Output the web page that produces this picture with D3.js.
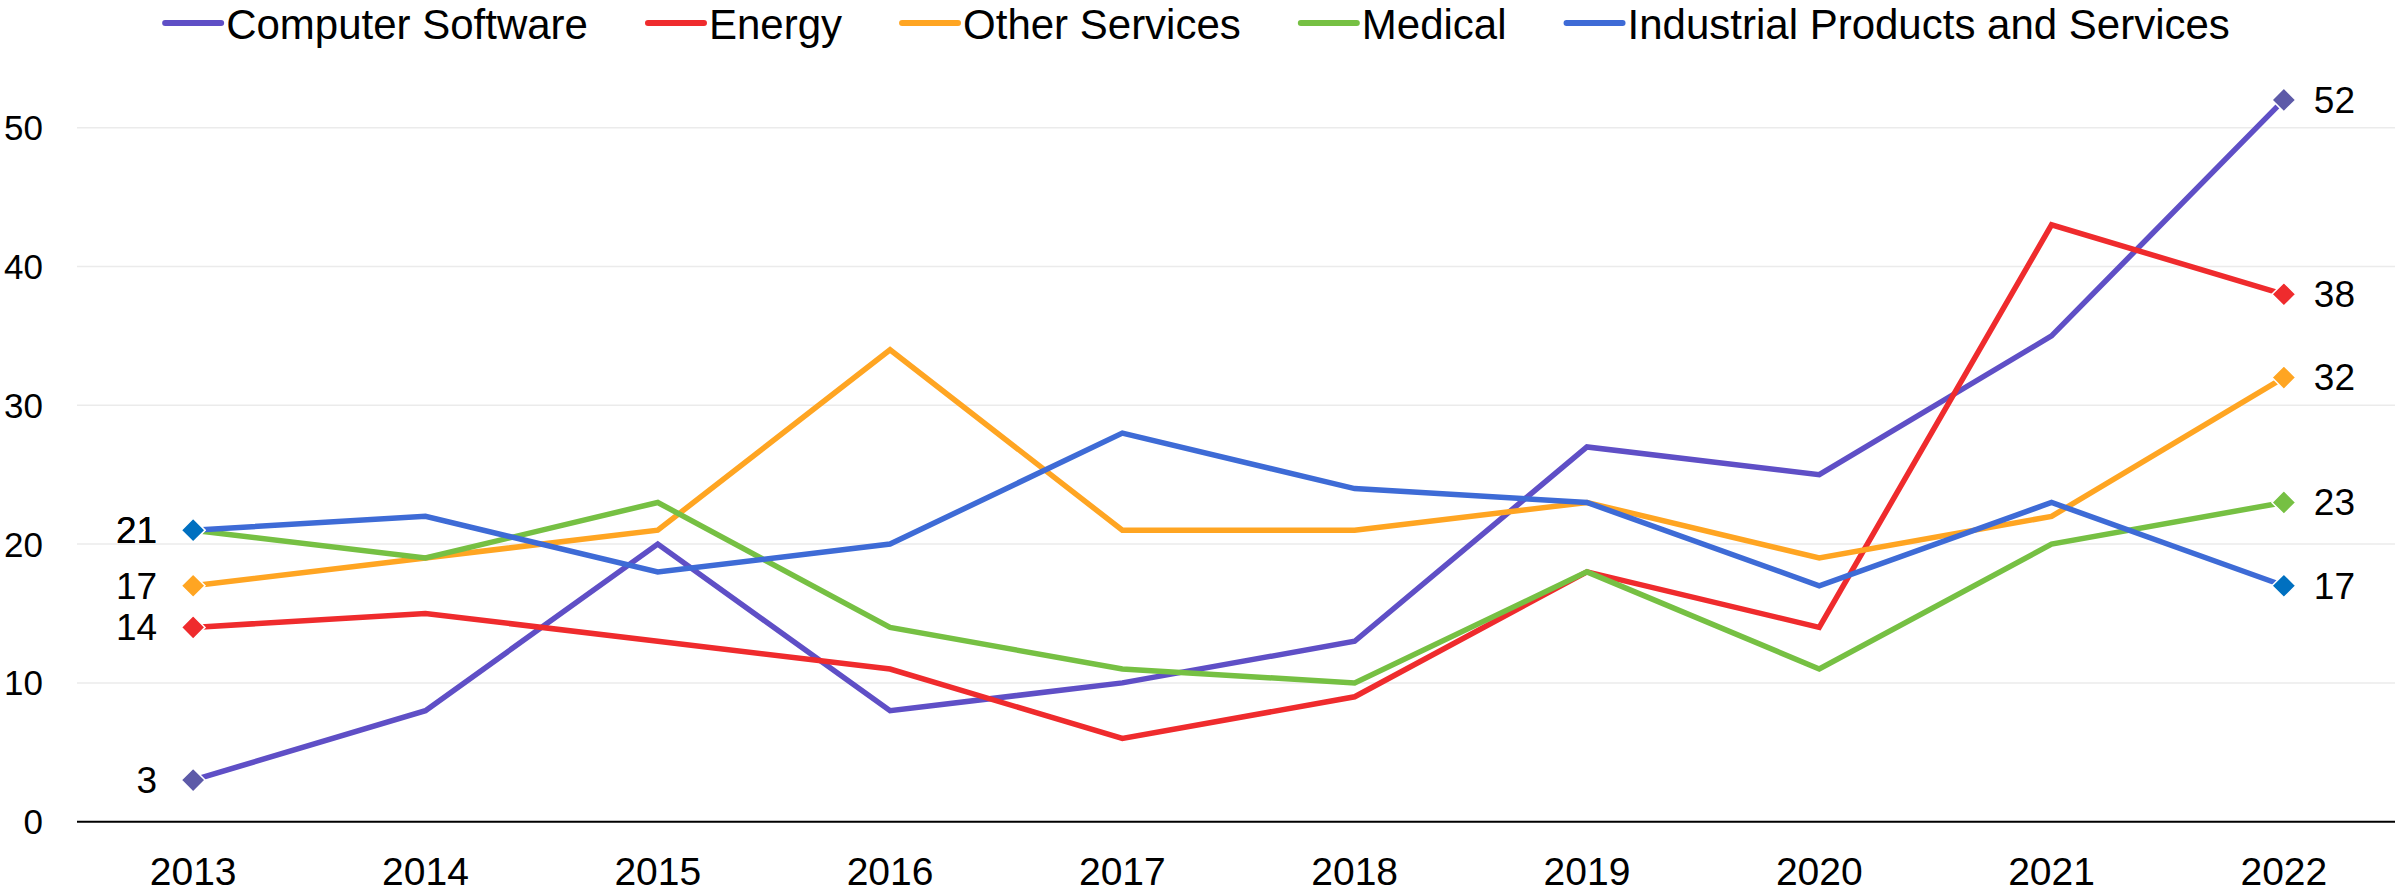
<!DOCTYPE html>
<html>
<head>
<meta charset="utf-8">
<script src="https://cdn.jsdelivr.net/npm/d3@7"></script>
<style>
  html, body { margin: 0; padding: 0; background: #fff; }
  svg { display: block; font-family: "Liberation Sans", Arial, sans-serif; }
</style>
</head>
<body>
<svg id="chart" width="2395" height="892"></svg>
<script>
const years = ["2013","2014","2015","2016","2017","2018","2019","2020","2021","2022"];
const seriesNames = ["Computer Software","Energy","Other Services","Medical","Industrial Products and Services"];
const computerSoftware = [3, 8, 20, 8, 10, 13, 27, 25, 35, 52];
const energy = [14, 15, 13, 11, 6, 9, 18, 14, 43, 38];
const otherServices = [17, 19, 21, 34, 21, 21, 23, 19, 22, 32];
const medical = [21, 19, 23, 14, 11, 10, 18, 11, 20, 23];
const industrial = [21, 22, 18, 20, 28, 24, 23, 17, 23, 17];
const yTicks = [0, 10, 20, 30, 40, 50];

const lineColors = ["#5F4FC6", "#EF2B2D", "#FFA522", "#76C043", "#3E6BD6"];
const markerColors = ["#5D5AA8", "#EF2B2D", "#FFA522", "#76C043", "#0070C0"];

const seriesValues = [computerSoftware, energy, otherServices, medical, industrial];
const series = seriesNames.map((n, i) => ({ name: n, values: seriesValues[i], line: lineColors[i], marker: markerColors[i] }));

const svg = d3.select("#chart");
const W = 2395, H = 892;
const plotLeft = 77, plotRight = 2400;

const x = d3.scaleBand().domain(years).range([plotLeft, plotRight]).paddingInner(0).paddingOuter(0);
const xc = d => x(d) + x.bandwidth() / 2;
const y = d3.scaleLinear().domain([0, 50]).range([821.7, 127.7]);

// gridlines
const grid = svg.append("g");
grid.selectAll("line").data(yTicks.filter(t => t > 0)).enter().append("line")
  .attr("x1", plotLeft).attr("x2", W)
  .attr("y1", d => y(d)).attr("y2", d => y(d))
  .attr("stroke", "#EBEBEB").attr("stroke-width", 1.5);

// y axis labels
const yAxis = d3.axisLeft(y).tickValues(yTicks).tickSize(0).tickPadding(0);
const yG = svg.append("g").attr("transform", "translate(43,0)").call(yAxis);
yG.select(".domain").remove();
yG.selectAll("text").attr("font-size", 35).attr("fill", "#000")
  .attr("font-family", "Liberation Sans, Arial, sans-serif").attr("dy", "0.34em");

// x axis
const xAxis = d3.axisBottom(x).tickSize(0).tickPadding(0);
const xG = svg.append("g").attr("transform", `translate(0,${y(0)})`).call(xAxis);
xG.select(".domain").remove();
xG.selectAll("text").attr("font-size", 39).attr("fill", "#000")
  .attr("font-family", "Liberation Sans, Arial, sans-serif").attr("dy", "0").attr("y", 63);
svg.append("line").attr("x1", plotLeft).attr("x2", W).attr("y1", y(0)).attr("y2", y(0))
  .attr("stroke", "#000").attr("stroke-width", 2);

// lines
const line = d3.line().x((d, i) => xc(years[i])).y(d => y(d));
svg.append("g").selectAll("path").data(series).enter().append("path")
  .attr("d", d => line(d.values))
  .attr("fill", "none").attr("stroke", d => d.line).attr("stroke-width", 5.5)
  .attr("stroke-linejoin", "miter");

// markers and labels
const diamond = d3.symbol().type(d3.symbolDiamond2).size(360);
const mk = svg.append("g");
series.forEach(s => {
  const n = s.values.length;
  [0, n - 1].forEach(i => {
    mk.append("path").attr("d", diamond())
      .attr("transform", `translate(${xc(years[i])},${y(s.values[i])})`)
      .attr("fill", s.marker).attr("stroke", "#fff").attr("stroke-width", 1.5);
  });
});
const lb = svg.append("g");
series.forEach(s => {
  const n = s.values.length;
  lb.append("text").attr("x", xc(years[0]) - 36).attr("y", y(s.values[0])).attr("dy", "0.35em")
    .attr("text-anchor", "end").attr("font-size", 37).attr("fill", "#000").text(s.values[0]);
  lb.append("text").attr("x", xc(years[n - 1]) + 30).attr("y", y(s.values[n - 1])).attr("dy", "0.35em")
    .attr("text-anchor", "start").attr("font-size", 37).attr("fill", "#000").text(s.values[n - 1]);
});

// legend
const legendFont = 42, lineLen = 56, lineGap = 5, itemGap = 60;
const leg = svg.append("g");
const items = leg.selectAll("g").data(series).enter().append("g");
items.append("line").attr("x1", 0).attr("x2", lineLen).attr("y1", 23).attr("y2", 23)
  .attr("stroke", d => d.line).attr("stroke-width", 6).attr("stroke-linecap", "round");
items.append("text").attr("x", lineLen + lineGap).attr("y", 38.5).attr("font-size", legendFont)
  .attr("fill", "#000").text(d => d.name);
let widths = [];
items.each(function () { widths.push(this.getBBox().width); });
const total = d3.sum(widths) + itemGap * (widths.length - 1);
let cx = W / 2 - total / 2;
items.each(function (d, i) {
  d3.select(this).attr("transform", `translate(${cx},0)`);
  cx += widths[i] + itemGap;
});
</script>
</body>
</html>
